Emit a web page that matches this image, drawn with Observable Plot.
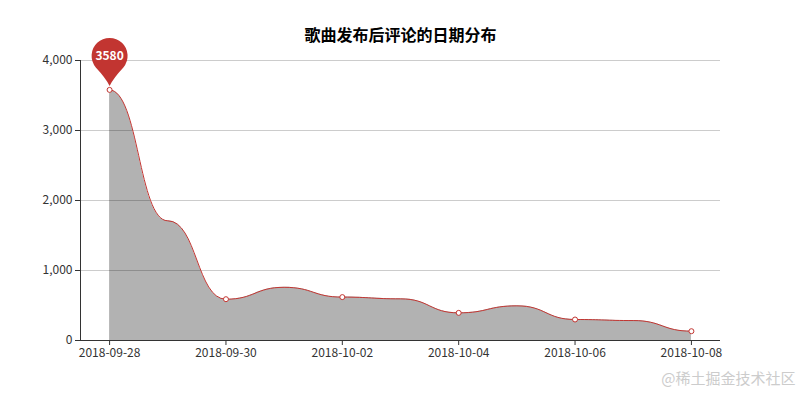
<!DOCTYPE html>
<html>
<head>
<meta charset="utf-8">
<script src="https://cdn.jsdelivr.net/npm/d3@7"></script>
<script src="https://cdn.jsdelivr.net/npm/@observablehq/plot@0.6"></script>
<style>
  body { margin: 0; background: #fff; }
  svg { font-family: "Noto Sans CJK SC", "Noto Sans", sans-serif; }
</style>
</head>
<body>
<div id="chart"></div>
<script>
const dates = ["2018-09-28","2018-09-29","2018-09-30","2018-10-01","2018-10-02","2018-10-03","2018-10-04","2018-10-05","2018-10-06","2018-10-07","2018-10-08"];
const counts = [3580, 1710, 590, 760, 620, 595, 395, 495, 300, 285, 133];
const xTickLabels = ["2018-09-28","2018-09-30","2018-10-02","2018-10-04","2018-10-06","2018-10-08"];
const yTicks = [0, 1000, 2000, 3000, 4000];
const title = "歌曲发布后评论的日期分布";
const watermark = "@稀土掘金技术社区";

const data = dates.map((d, i) => ({date: new Date(d + "T00:00:00Z"), count: counts[i], i}));
const shown = data.filter(d => d.i % 2 === 0);
const maxPoint = data.reduce((a, b) => (b.count > a.count ? b : a));
const xTicks = xTickLabels.map(d => new Date(d + "T00:00:00Z"));
const xDomain = [new Date("2018-09-27T12:00:00Z"), new Date("2018-10-08T12:00:00Z")];

const pin = {
  draw(ctx) {
    const R = 18, cy = -34, a = 50 * Math.PI / 180;
    const lx = -R * Math.sin(a), ly = cy + R * Math.cos(a);
    ctx.moveTo(lx, ly);
    ctx.arc(0, cy, R, Math.PI / 2 + a, Math.PI * 2 + Math.PI / 2 - a, false);
    ctx.quadraticCurveTo(4, -12, 0, -4);
    ctx.quadraticCurveTo(-4, -12, lx, ly);
    ctx.closePath();
  }
};

const plot = Plot.plot({
  width: 800,
  height: 400,
  marginTop: 60,
  marginBottom: 60,
  marginLeft: 80,
  marginRight: 80,
  style: {fontSize: "12px", color: "#333", background: "#fff"},
  x: {type: "utc", domain: xDomain, label: null},
  y: {domain: [0, 4000], label: null},
  marks: [
    Plot.gridY(yTicks.slice(1), {stroke: "#ccc", strokeOpacity: 1}),
    Plot.areaY(data, {x: "date", y: "count", curve: "bump-x", fill: "black", fillOpacity: 0.3}),
    Plot.lineY(data, {x: "date", y: "count", curve: "bump-x", stroke: "#c23531", strokeWidth: 1}),
    Plot.axisX({ticks: xTicks, tickFormat: d3.utcFormat("%Y-%m-%d"), tickSize: 5, tickPadding: 3, stroke: "#333", fill: "#333", fontSize: 12, label: null}),
    Plot.axisY({ticks: yTicks, tickFormat: d3.format(","), tickSize: 5, tickPadding: 3, stroke: "#333", fill: "#333", fontSize: 12, label: null}),
    Plot.ruleY([0], {stroke: "#333"}),
    Plot.ruleX([xDomain[0]], {y1: 0, y2: 4000, stroke: "#333"}),
    Plot.dot(shown, {x: "date", y: "count", r: 2.5, fill: "white", stroke: "#c23531", strokeWidth: 1}),
    Plot.dot([maxPoint], {x: "date", y: "count", symbol: pin, r: 10, fill: "#c23531", stroke: "none"}),
    Plot.text([maxPoint], {x: "date", y: "count", text: d => String(d.count), dy: -34, fill: "white", fontSize: 12, fontWeight: "bold"}),
    Plot.text([title], {frameAnchor: "top", dy: -31, fontSize: 16, fontWeight: "bold", fill: "#000"}),
    Plot.text([watermark], {frameAnchor: "bottom-right", dx: 75, dy: 43, textAnchor: "end", fontSize: 15, fill: "#ccc"})
  ]
});
document.getElementById("chart").appendChild(plot);
</script>
</body>
</html>
